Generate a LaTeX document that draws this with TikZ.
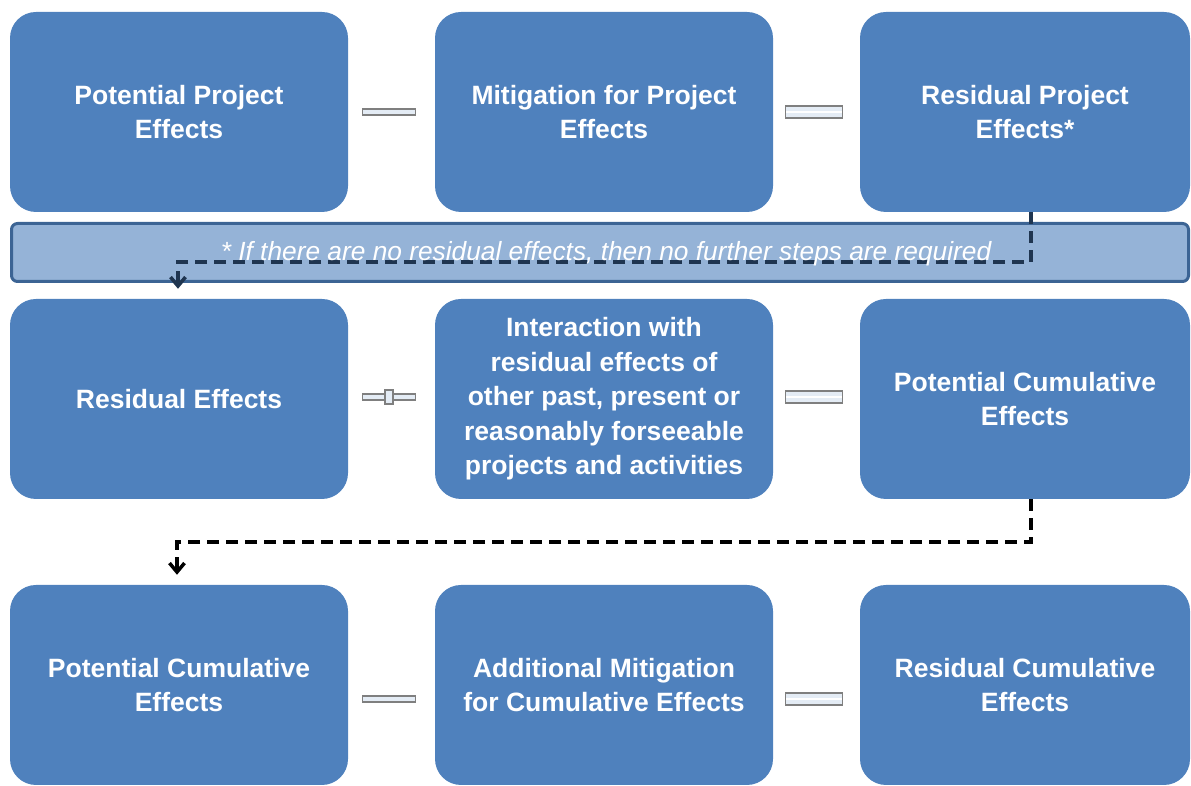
\documentclass[tikz,border=0pt]{standalone}
\usepackage{fontspec}
\setmainfont{Liberation Sans}
\usetikzlibrary{positioning,arrows.meta}
\definecolor{boxblue}{HTML}{4F81BD}
\definecolor{bannerblue}{HTML}{95B3D7}
\definecolor{bannerline}{HTML}{3C6494}
\definecolor{signgray}{HTML}{7F7F7F}
\definecolor{signfill}{HTML}{E4ECF5}
\definecolor{navydash}{HTML}{1F3550}
\tikzset{
  box/.style={rectangle, rounded corners=26pt, fill=boxblue, text=white,
    font=\fontsize{26.5}{34.5}\selectfont\bfseries, align=center,
    minimum width=338pt, minimum height=200pt, inner sep=0pt},
  rightbox/.style={box, minimum width=330pt},
  sign/.style={rectangle, draw=signgray, fill=signfill, line width=1.1pt, inner sep=0pt},
  minusbar/.style={sign, minimum width=53pt, minimum height=6pt},
  crossbar/.style={sign, minimum width=8pt, minimum height=14pt},
  equalsbar/.style={sign, minimum width=57pt, minimum height=12pt,
    path picture={\draw[signgray, line width=0.6pt, double=white, double distance=1.4pt]
      (path picture bounding box.west) -- (path picture bounding box.east);}},
  banner/.style={rectangle, rounded corners=6pt, draw=bannerline, line width=3pt,
    fill=bannerblue, minimum width=1177pt, minimum height=58pt},
  notetext/.style={text=white, font=\fontsize{26.3}{30}\selectfont\itshape},
  flow/.style={dash pattern=on 12pt off 7pt, line width=3.5pt,
    -{Straight Barb[length=9pt, width=15pt]}}
}
\begin{document}
\begin{tikzpicture}[x=1pt, y=1pt, node distance=425pt]
      \useasboundingbox (0,0) rectangle (1191,786);

      \node[box] (ppe) at (179,674) {Potential Project\\Effects};
      \node[box, right of=ppe] (mpe) {Mitigation for Project\\Effects};
      \node[rightbox, right of=mpe, node distance=421pt] (rpe) {Residual Project\\Effects*};

      \node[banner] (note) at (600,533.5) {};

      \node[box, below of=ppe, node distance=287pt] (re) {Residual Effects};
      \node[box, below of=mpe, node distance=287pt] (ire) {Interaction with\\residual effects of\\other past, present or\\reasonably forseeable\\projects and activities};
      \node[rightbox, below of=rpe, node distance=287pt] (pce) {Potential Cumulative\\Effects};

      \node[box, below of=re, node distance=286pt] (pce2) {Potential Cumulative\\Effects};
      \node[box, below of=ire, node distance=286pt] (amce) {Additional Mitigation\\for Cumulative Effects};
      \node[rightbox, below of=pce, node distance=286pt] (rce) {Residual Cumulative\\Effects};

      \node[minusbar, right of=ppe, node distance=210pt] (m1) {};
      \node[equalsbar, right of=mpe, node distance=210pt] (e1) {};
      \node[minusbar, right of=re, node distance=210pt, yshift=2pt] (p2) {};
      \node[crossbar, at=(p2)] (p2v) {};
      \node[equalsbar, right of=ire, node distance=210pt, yshift=2pt] (e2) {};
      \node[minusbar, right of=pce2, node distance=210pt, yshift=-14pt] (m3) {};
      \node[equalsbar, right of=amce, node distance=210pt, yshift=-14pt] (e3) {};

      \draw[flow, navydash] ([xshift=6pt]rpe.south) -- ++(0,-50) -| ([xshift=-1pt, yshift=10pt]re.north);
      \draw[flow] ([xshift=6pt]pce.south) -- ++(0,-43) -| ([xshift=-2pt, yshift=10pt]pce2.north);

      \node[notetext] (notetxt) at ([xshift=6pt, yshift=-1pt]note.center) {* If there are no residual effects, then no further steps are required};
    \end{tikzpicture}
\end{document}
